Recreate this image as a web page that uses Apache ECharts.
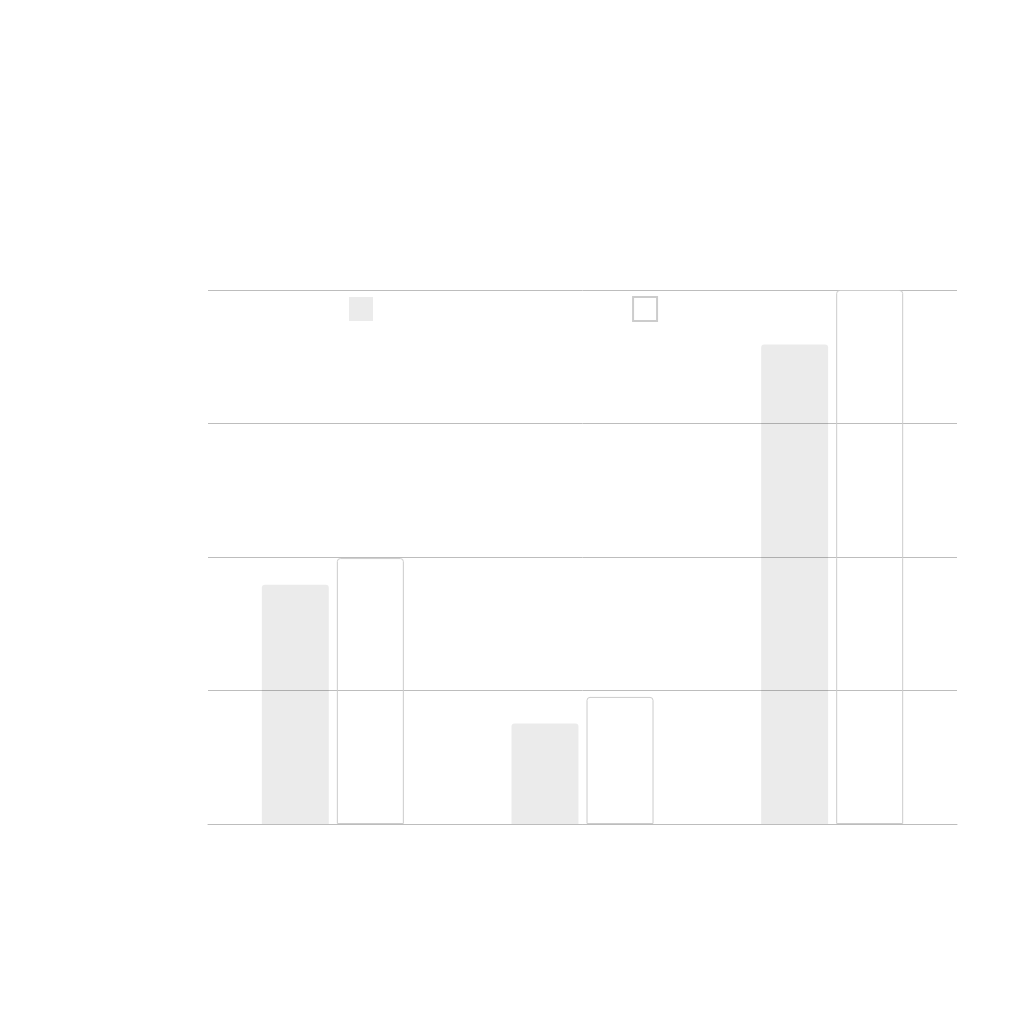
<!DOCTYPE html>
<html>
<head>
<meta charset="utf-8">
<script src="https://cdn.jsdelivr.net/npm/echarts@6/dist/echarts.min.js"></script>
<style>
  html, body { margin: 0; padding: 0; background: #fff; }
  #chart { width: 1024px; height: 1024px; }
</style>
</head>
<body>
<div id="chart"></div>
<script>
// Data
var categories = ['Önbecsülés', 'Önállóság', 'Hála'];
var seriesNames = ['Teszt előtt', 'Teszt után'];
var before = [2.24, 0.94, 4.49];
var after = [2.49, 1.19, 5.0];
var yTicks = [0, 1.25, 2.5, 3.75, 5];

var txt = '#ffffff';
var font = 'Noto Sans, sans-serif';

var chart = echarts.init(document.getElementById('chart'), null, { renderer: 'canvas' });

chart.setOption({
  backgroundColor: '#ffffff',
  textStyle: { fontFamily: font, color: txt },
  title: [{
    text: 'Javulás az önbecsülés, önállóság, hála',
    subtext: 'terápia után',
    left: 'center', top: 62, itemGap: 8,
    textStyle: { fontSize: 46, fontWeight: 'normal', color: txt, fontFamily: font },
    subtextStyle: { fontSize: 25, color: txt, fontFamily: font }
  }, {
    text: 'Referencia:\nHealth Care for Women International, 1–34, July 2024',
    left: 50, top: 953,
    textStyle: { fontSize: 13, fontWeight: 'normal', color: txt, lineHeight: 17, fontFamily: font }
  }],
  legend: {
    data: seriesNames,
    left: 344, top: 291,
    itemWidth: 24, itemHeight: 24, itemGap: 173,
    icon: 'rect',
    textStyle: { fontSize: 17, color: txt, fontFamily: font }
  },
  grid: { left: 208, right: 67, top: 290, bottom: 200, containLabel: false },
  xAxis: {
    type: 'category',
    data: categories,
    axisLine: { show: true, lineStyle: { color: '#bdbdbd', width: 1 } },
    axisTick: { show: false },
    axisLabel: { fontSize: 20, color: txt, margin: 28, fontFamily: font }
  },
  yAxis: {
    type: 'value',
    min: yTicks[0], max: yTicks[yTicks.length - 1], interval: 1.25,
    name: 'Átlagos pontszám a kérdőíven (pontok)',
    nameLocation: 'middle', nameGap: 108, nameRotate: 90,
    nameTextStyle: { fontSize: 17, color: txt, fontFamily: font },
    axisLine: { show: false },
    axisTick: { show: false },
    splitLine: { lineStyle: { color: '#bdbdbd', width: 1 } },
    axisLabel: {
      fontSize: 17, color: txt, margin: 28, fontFamily: font,
      formatter: function(v) { return String(v).replace('.', ','); }
    }
  },
  series: [{
    name: seriesNames[0],
    type: 'bar',
    data: before,
    barWidth: 67, barGap: '12%',
    itemStyle: { color: 'rgba(0,0,0,0.08)', borderRadius: [3, 3, 0, 0] }
  }, {
    name: seriesNames[1],
    type: 'bar',
    data: after,
    barWidth: 67,
    itemStyle: { color: 'rgba(255,255,255,0)', borderColor: '#cccccc', borderWidth: 1, borderRadius: [3, 3, 0, 0] }
  }]
});
</script>
</body>
</html>
